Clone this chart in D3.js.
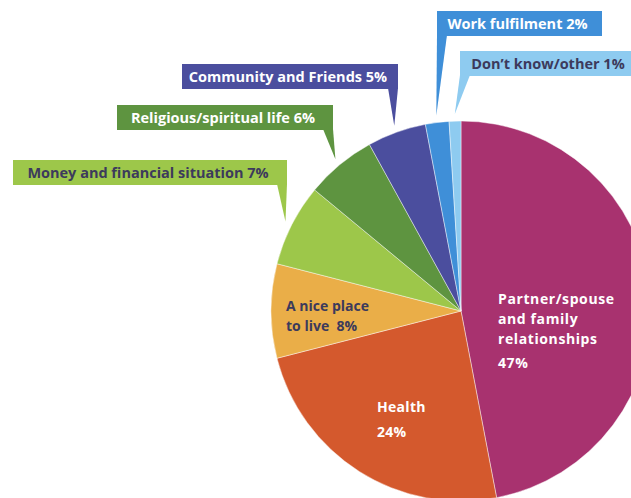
<!DOCTYPE html>
<html>
<head>
<meta charset="utf-8">
<script src="https://cdn.jsdelivr.net/npm/d3@7"></script>
<style>
  html, body { margin: 0; padding: 0; background: #fff; }
  svg { display: block; }
  text { font-family: "Open Sans", "Noto Sans", sans-serif; font-weight: 700; }
</style>
</head>
<body>
<div id="chart"></div>
<script>
// Data
const categories = [
  "Partner/spouse and family relationships",
  "Health",
  "A nice place to live",
  "Money and financial situation",
  "Religious/spiritual life",
  "Community and Friends",
  "Work fulfilment",
  "Don\u2019t know/other"
];
const values = [47, 24, 8, 7, 6, 5, 2, 1];
const colors = ["#a8326f", "#d4592d", "#eaae48", "#9dc74a", "#5e9440", "#4b4e9e", "#3f8fd8", "#8ecbf0"];

const width = 631, height = 498;
const cx = 461, cy = 311, radius = 190;
const darkText = "#3c3a5c";

const svg = d3.select("#chart").append("svg")
    .attr("width", width)
    .attr("height", height);

const pie = d3.pie().sort(null).value(d => d.value);
const arcs = pie(categories.map((c, i) => ({ name: c, value: values[i], color: colors[i] })));
const arc = d3.arc().innerRadius(0).outerRadius(radius);

const g = svg.append("g").attr("transform", `translate(${cx},${cy})`);

g.selectAll("path.slice")
    .data(arcs)
    .enter().append("path")
    .attr("class", "slice")
    .attr("d", arc)
    .attr("fill", d => d.data.color)
    .attr("stroke", "rgba(255,255,255,0.55)")
    .attr("stroke-width", 0.8);

// Labels inside the big slices (one text per line)
const insideLabels = [
  { x: 498, y: 304, size: 14, ls: 0.6, fill: "#fff", lines: ["Partner/spouse", "and family", "relationships", "47%"], offs: [0, 19.5, 39.5, 64] },
  { x: 377, y: 412, size: 14, ls: 0.3, fill: "#fff", lines: ["Health", "24%"], offs: [0, 25] },
  { x: 286, y: 311, size: 14, ls: 0, fill: darkText, lines: ["A nice place", "to live  8%"], offs: [0, 19.5] }
];

insideLabels.forEach(l => {
  l.lines.forEach((line, k) => {
    svg.append("text")
        .attr("x", l.x)
        .attr("y", l.y + l.offs[k])
        .attr("fill", l.fill)
        .attr("xml:space", "preserve")
        .style("font-size", l.size + "px")
        .style("letter-spacing", l.ls + "px")
        .text(line);
  });
});

// Callout boxes for the small slices
const callouts = [
  { i: 3, text: "Money and financial situation 7%", x: 13, y: 160, w: 274, h: 25, side: "right", fill: darkText },
  { i: 4, text: "Religious/spiritual life 6%", x: 117, y: 105, w: 216, h: 25, side: "right", fill: "#fff" },
  { i: 5, text: "Community and Friends 5%", x: 182, y: 64, w: 216, h: 25, side: "right", fill: "#fff" },
  { i: 6, text: "Work fulfilment 2%", x: 437, y: 11, w: 165, h: 25, side: "left", fill: "#fff" },
  { i: 7, text: "Don\u2019t know/other 1%", x: 460, y: 51, w: 180, h: 25, side: "left", fill: darkText }
];

const tipR = 197;
const cg = svg.append("g");
callouts.forEach(c => {
  const a = arcs[c.i];
  const mid = (a.startAngle + a.endAngle) / 2;
  const tip = [cx + tipR * Math.sin(mid), cy - tipR * Math.cos(mid)];
  const base = c.side === "right"
    ? [[c.x + c.w - 10, c.y + c.h - 1], [c.x + c.w, c.y + c.h - 1]]
    : [[c.x, c.y + c.h - 1], [c.x + 10, c.y + c.h - 1]];
  cg.append("path")
      .attr("d", d3.line()([base[0], base[1], tip]) + "Z")
      .attr("fill", a.data.color);
  cg.append("rect")
      .attr("x", c.x).attr("y", c.y)
      .attr("width", c.w).attr("height", c.h)
      .attr("fill", a.data.color);
  cg.append("text")
      .attr("x", c.x + c.w / 2 - 2)
      .attr("y", c.y + c.h / 2 + 5)
      .attr("text-anchor", "middle")
      .attr("fill", c.fill)
      .style("font-size", "14.5px")
      .text(c.text);
});
</script>
</body>
</html>
